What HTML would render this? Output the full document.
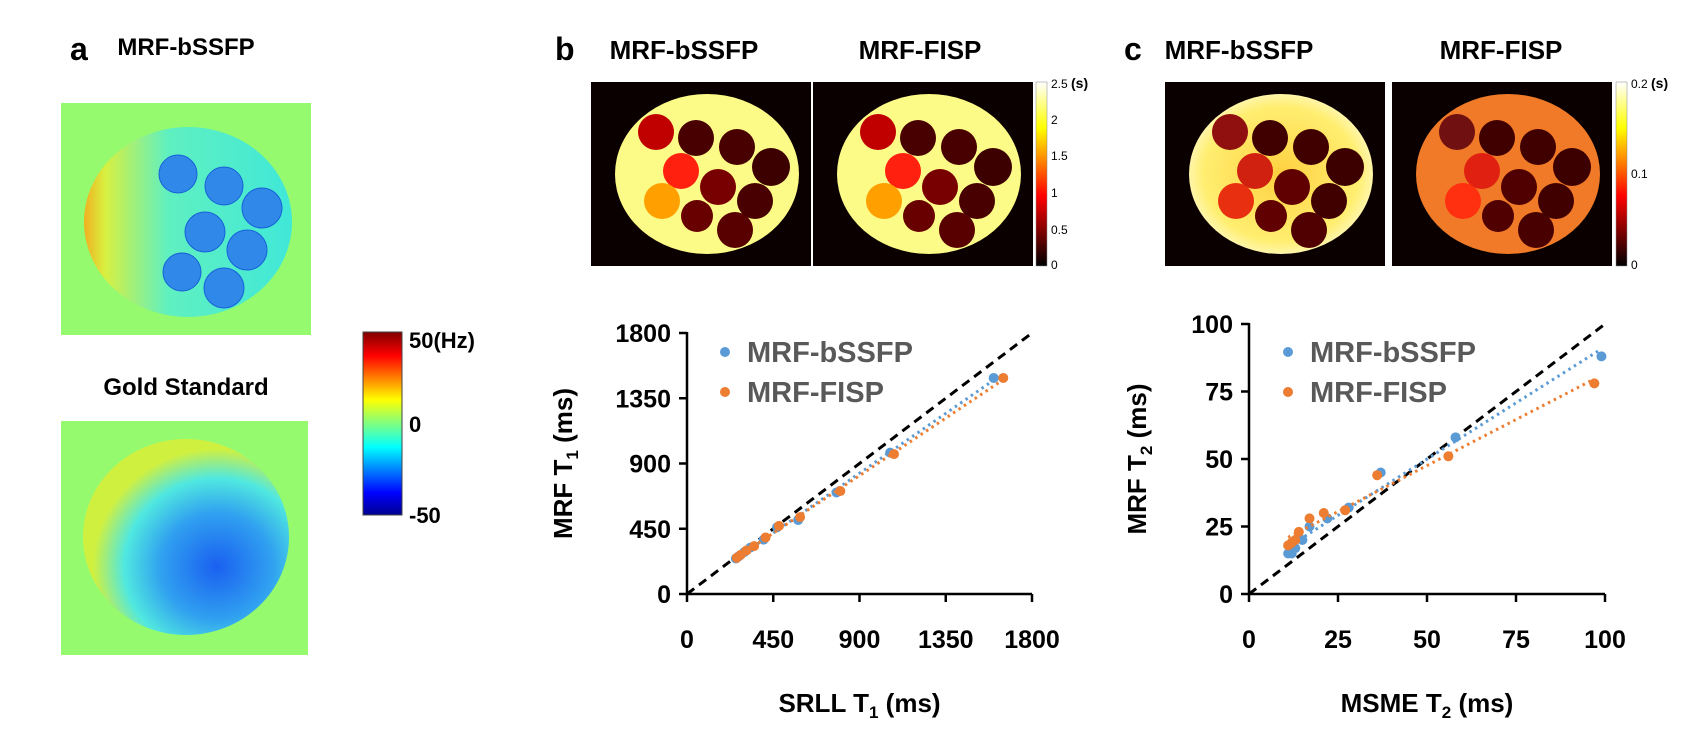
<!DOCTYPE html>
<html><head><meta charset="utf-8">
<style>
html,body{margin:0;padding:0;background:#fff;}
svg{display:block;font-family:"Liberation Sans",sans-serif;}
.lbl{font-weight:bold;fill:#000;}
.tick{font-weight:bold;font-size:25px;fill:#000;}
.leg{font-weight:bold;font-size:29px;fill:#595959;}
</style></head>
<body>
<svg id="fig" width="1697" height="736" viewBox="0 0 1697 736" xmlns="http://www.w3.org/2000/svg">
<defs>
<linearGradient id="jet" x1="0" y1="1" x2="0" y2="0">
<stop offset="0" stop-color="#00008f"/><stop offset="0.12" stop-color="#0000ff"/><stop offset="0.37" stop-color="#00ffff"/><stop offset="0.5" stop-color="#80ff80"/><stop offset="0.63" stop-color="#ffff00"/><stop offset="0.87" stop-color="#ff0000"/><stop offset="1" stop-color="#800000"/>
</linearGradient>
<linearGradient id="hot" x1="0" y1="1" x2="0" y2="0">
<stop offset="0" stop-color="#000"/><stop offset="0.38" stop-color="#ff0000"/><stop offset="0.75" stop-color="#ffff00"/><stop offset="1" stop-color="#ffffff"/>
</linearGradient>
<linearGradient id="a1g" x1="0" y1="0" x2="1" y2="0">
<stop offset="0" stop-color="#f0b020"/><stop offset="0.1" stop-color="#d8f040"/><stop offset="0.4" stop-color="#60f0c0"/><stop offset="1" stop-color="#40e8d8"/>
</linearGradient>
<radialGradient id="a2g" cx="0.65" cy="0.65" r="0.6">
<stop offset="0" stop-color="#1a60f0"/><stop offset="0.45" stop-color="#30a0f0"/><stop offset="0.75" stop-color="#50e8e0"/><stop offset="1" stop-color="#d0f040"/>
</radialGradient>
<radialGradient id="c1g" cx="0.5" cy="0.5" r="0.6">
<stop offset="0" stop-color="#ffd040"/><stop offset="0.7" stop-color="#ffee70"/><stop offset="1" stop-color="#fffff0"/>
</radialGradient>
</defs>

<!-- panel a -->
<text class="lbl" x="70" y="60" font-size="32">a</text>
<text class="lbl" x="186" y="55" font-size="24" text-anchor="middle">MRF-bSSFP</text>
<g>
<rect x="61" y="103" width="250" height="232" fill="#96fa6e"/>
<ellipse cx="188" cy="222" rx="104" ry="95" fill="url(#a1g)"/>
<g fill="#3088e8" stroke="#1860d8" stroke-width="1">
<circle cx="178" cy="174" r="19"/><circle cx="224" cy="186" r="19"/><circle cx="262" cy="208" r="20"/>
<circle cx="205" cy="232" r="20"/><circle cx="247" cy="250" r="20"/><circle cx="182" cy="272" r="19"/><circle cx="224" cy="288" r="20"/>
</g>
</g>
<text class="lbl" x="186" y="395" font-size="24" text-anchor="middle">Gold Standard</text>
<g>
<rect x="61" y="421" width="247" height="234" fill="#96fa6e"/>
<ellipse cx="186" cy="537" rx="103" ry="98" fill="url(#a2g)"/>
</g>
<rect x="363" y="332" width="39" height="183" fill="url(#jet)" stroke="#444" stroke-width="1"/>
<text class="lbl" x="409" y="348" font-size="22">50(Hz)</text>
<text class="lbl" x="409" y="432" font-size="22">0</text>
<text class="lbl" x="409" y="523" font-size="22">-50</text>

<!-- panel b -->
<text class="lbl" x="555" y="60" font-size="32">b</text>
<text class="lbl" x="684" y="59" font-size="26" text-anchor="middle">MRF-bSSFP</text>
<text class="lbl" x="920" y="59" font-size="26" text-anchor="middle">MRF-FISP</text>
<g id="imgs"></g>
<rect x="1036" y="82" width="11" height="184" fill="url(#hot)" stroke="#888" stroke-width="0.5"/>
<g font-size="12">
<text x="1051" y="88">2.5</text><text x="1071" y="88" font-weight="bold" font-size="14">(s)</text>
<text x="1051" y="124">2</text><text x="1051" y="160">1.5</text><text x="1051" y="197">1</text><text x="1051" y="234">0.5</text><text x="1051" y="269">0</text>
</g>

<!-- panel c -->
<text class="lbl" x="1124" y="60" font-size="32">c</text>
<text class="lbl" x="1239" y="59" font-size="26" text-anchor="middle">MRF-bSSFP</text>
<text class="lbl" x="1501" y="59" font-size="26" text-anchor="middle">MRF-FISP</text>
<rect x="1616" y="82" width="11" height="184" fill="url(#hot)" stroke="#888" stroke-width="0.5"/>
<g font-size="12">
<text x="1631" y="88">0.2</text><text x="1651" y="88" font-weight="bold" font-size="14">(s)</text>
<text x="1631" y="178">0.1</text><text x="1631" y="269">0</text>
</g>

<g id="chartB"></g>
<g id="chartC"></g>
</svg>

<script>
// ---- T1 chart data ----
const t1Ticks = [0, 450, 900, 1350, 1800];
const t1RefBssfp = [1600, 1060, 780, 580, 470, 400, 330, 300, 270, 255];
const t1MrfBssfp = [1490, 975, 700, 510, 460, 375, 320, 290, 260, 245];
const t1RefFisp = [1650, 1080, 800, 590, 480, 410, 350, 310, 280, 260];
const t1MrfFisp = [1490, 965, 710, 530, 470, 390, 330, 300, 270, 250];
// ---- T2 chart data ----
const t2Ticks = [0, 25, 50, 75, 100];
const t2RefBssfp = [99, 58, 37, 28, 22, 17, 15, 13, 12, 11];
const t2MrfBssfp = [88, 58, 45, 32, 28, 25, 20, 17, 15, 15];
const t2RefFisp = [97, 56, 36, 27, 21, 17, 14, 13, 12, 11];
const t2MrfFisp = [78, 51, 44, 31, 30, 28, 23, 20, 19, 18];
const seriesNames = ["MRF-bSSFP", "MRF-FISP"];

const NS = "http://www.w3.org/2000/svg";
function mk(tag, attrs, parent) {
  const e = document.createElementNS(NS, tag);
  for (const k in attrs) e.setAttribute(k, attrs[k]);
  parent.appendChild(e);
  return e;
}

const vials = [[61,46,18],[101,52,18],[142,61,18],[176,81,19],[86,85,18],[123,101,18],[160,115,18],[67,115,18],[102,130,16],[140,144,18]];
const imgDefs = [
  {x:591, bg:"#fdfb88", cols:["#c00000","#480000","#480000","#3c0000","#ff2010","#780000","#480000","#ffa000","#680000","#580000"], name:"t1-map-mrf-bssfp"},
  {x:813, bg:"#fdfb88", cols:["#c00000","#480000","#480000","#3c0000","#ff2010","#780000","#480000","#ffa000","#680000","#580000"], name:"t1-map-mrf-fisp"},
  {x:1165, bg:"url(#c1g)", cols:["#901010","#400000","#400000","#3c0000","#d02010","#600000","#400000","#e83010","#600000","#500000"], name:"t2-map-mrf-bssfp"},
  {x:1392, bg:"#f07a28", cols:["#701010","#400000","#400000","#3c0000","#e02010","#500000","#400000","#ff3010","#500000","#480000"], name:"t2-map-mrf-fisp"}
];
const imgs = document.getElementById("imgs");
imgDefs.forEach(d => {
  const g = mk("g", {transform:`translate(${d.x},82)`}, imgs);
  
  
  mk("rect", {x:0,y:0,width:220,height:184,fill:"#0a0000"}, g);
  mk("ellipse", {cx:116,cy:92,rx:92,ry:80,fill:d.bg}, g);
  vials.forEach((v,i) => mk("circle", {cx:v[0]+4,cy:v[1]+4,r:v[2],fill:d.cols[i]}, g));
});

function fit(xs, ys) {
  const n = xs.length; let sx=0, sy=0, sxx=0, sxy=0;
  for (let i=0;i<n;i++){sx+=xs[i];sy+=ys[i];sxx+=xs[i]*xs[i];sxy+=xs[i]*ys[i];}
  const m=(n*sxy-sx*sy)/(n*sxx-sx*sx); return [m,(sy-m*sx)/n];
}

function chart(root, o) {
  const X = v => o.x0 + (v - o.ticks[0]) / (o.ticks[o.ticks.length-1] - o.ticks[0]) * (o.x1 - o.x0);
  const Y = v => o.y0 - (v - o.ticks[0]) / (o.ticks[o.ticks.length-1] - o.ticks[0]) * (o.y0 - o.y1);
  const mx = o.ticks[o.ticks.length-1];
  const id = mk("line", {x1:X(0),y1:Y(0),x2:X(mx),y2:Y(mx),stroke:"#000","stroke-width":3,"stroke-dasharray":"9,6"}, root);
  
  
  const ax = mk("path", {d:`M${o.x0},${o.y1-1}V${o.y0}H${o.x1}`,fill:"none",stroke:"#000","stroke-width":2.5}, root);
  
  
  o.ticks.forEach(t => {
    mk("line", {x1:o.x0-8,y1:Y(t),x2:o.x0,y2:Y(t),stroke:"#000","stroke-width":2.5}, root);
    mk("line", {x1:X(t),y1:o.y0,x2:X(t),y2:o.y0+8,stroke:"#000","stroke-width":2.5}, root);
    const yl = mk("text", {x:o.x0-16,y:Y(t)+9,"text-anchor":"end",class:"tick"}, root);
    yl.textContent = t;
    
    
    const xl = mk("text", {x:X(t),y:o.y0+54,"text-anchor":"middle",class:"tick"}, root);
    xl.textContent = t;
    
    
  });
  const cols = ["#5b9bd5", "#ed7d31"];
  o.series.forEach((s, si) => {
    const [m,b] = fit(s[0], s[1]);
    const xa = Math.min(...s[0]), xb = Math.max(...s[0]);
    const tl = mk("line", {x1:X(xa),y1:Y(m*xa+b),x2:X(xb),y2:Y(m*xb+b),stroke:cols[si],"stroke-width":3,"stroke-dasharray":"2.5,4"}, root);
    
    
    s[0].forEach((xv, i) => {
      const c = mk("circle", {cx:X(xv),cy:Y(s[1][i]),r:5,fill:cols[si]}, root);
      
      
    });
    const ld = mk("circle", {cx:o.lx,cy:352+si*40,r:5,fill:cols[si]}, root);
    
    
    const lt = mk("text", {x:o.lx+22,y:362+si*40,class:"leg"}, root);
    lt.textContent = seriesNames[si];
    
    
  });
  const xt = mk("text", {x:(o.x0+o.x1)/2,y:712,"text-anchor":"middle",class:"lbl","font-size":"26"}, root);
  xt.innerHTML = o.xTitle;
  
  
  const yt = mk("text", {x:0,y:0,"text-anchor":"middle",class:"lbl","font-size":"26",transform:`translate(${o.yTitleX},${(o.y0+o.y1)/2}) rotate(-90)`}, root);
  yt.innerHTML = o.yTitle;
  
  
}

chart(document.getElementById("chartB"), {
  x0:687, x1:1032, y0:594, y1:333, ticks:t1Ticks, lx:725, yTitleX:572,
  series:[[t1RefBssfp,t1MrfBssfp],[t1RefFisp,t1MrfFisp]],
  xTitle:'SRLL T<tspan font-size="17" dy="6">1</tspan><tspan dy="-6"> (ms)</tspan>',
  yTitle:'MRF T<tspan font-size="17" dy="6">1</tspan><tspan dy="-6"> (ms)</tspan>'
});
chart(document.getElementById("chartC"), {
  x0:1249, x1:1605, y0:594, y1:324, ticks:t2Ticks, lx:1288, yTitleX:1146,
  series:[[t2RefBssfp,t2MrfBssfp],[t2RefFisp,t2MrfFisp]],
  xTitle:'MSME T<tspan font-size="17" dy="6">2</tspan><tspan dy="-6"> (ms)</tspan>',
  yTitle:'MRF T<tspan font-size="17" dy="6">2</tspan><tspan dy="-6"> (ms)</tspan>'
});
</script>
</body></html>
